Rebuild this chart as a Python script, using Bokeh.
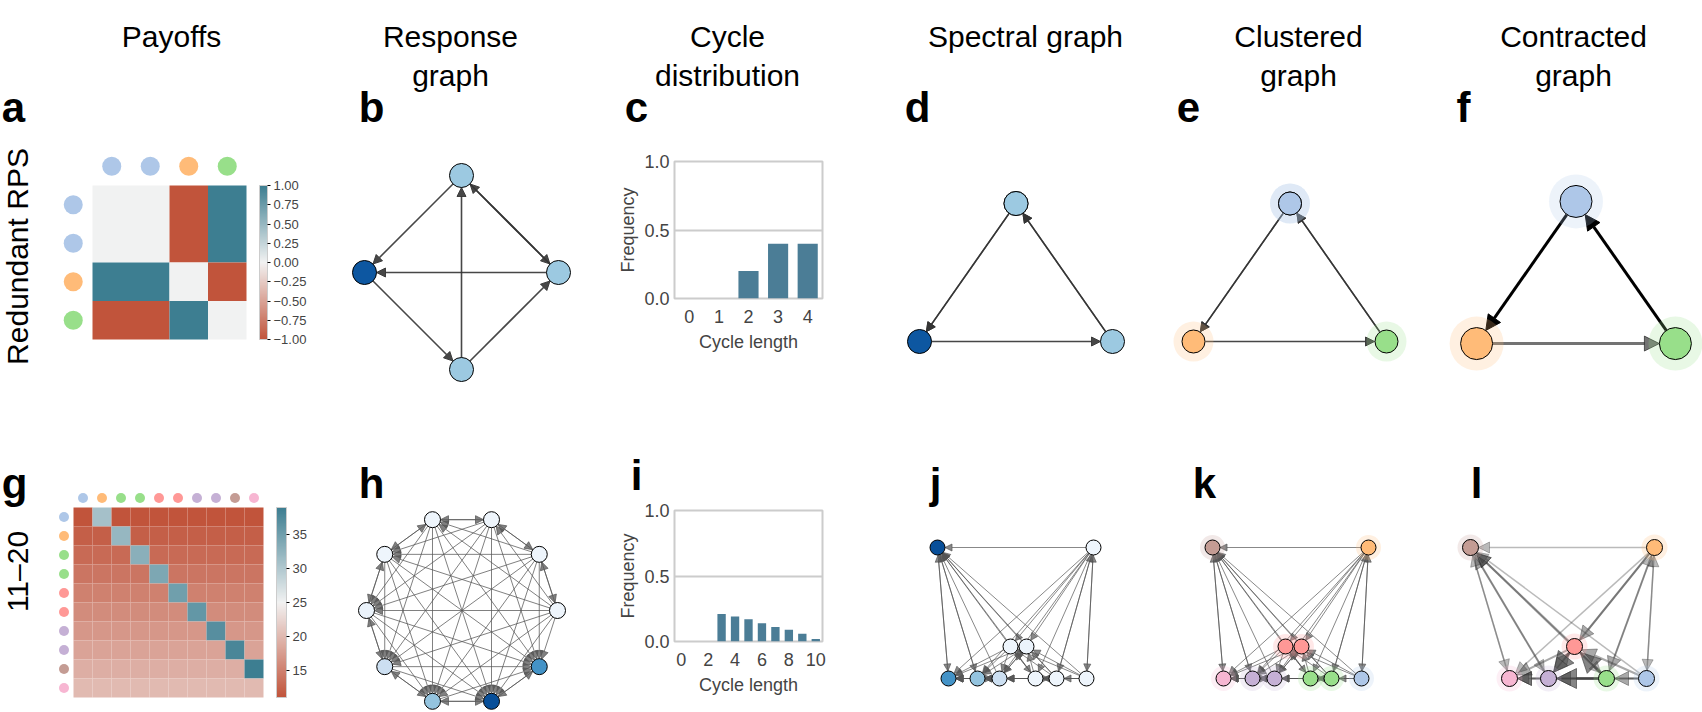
import math
from bokeh.plotting import figure
from bokeh.layouts import row, column
from bokeh.models import (Range1d, Arrow, NormalHead, ColorBar, LinearColorMapper,
                          FixedTicker, CustomJSTickFormatter, ColumnDataSource)
from bokeh.transform import linear_cmap
from bokeh.core.properties import value
from bokeh.embed import file_html
from bokeh.resources import INLINE
from bokeh.palettes import Blues256

FONT = "Liberation Sans"

# ---------------- data ----------------
HEADERS = [["Payoffs"], ["Response", "graph"], ["Cycle", "distribution"],
           ["Spectral graph"], ["Clustered", "graph"], ["Contracted", "graph"]]
LETTERS_TOP = ["a", "b", "c", "d", "e", "f"]
LETTERS_BOT = ["g", "h", "i", "j", "k", "l"]
ROW_LABELS = ["Redundant RPS", "11\u201320"]
CLUSTER_COLORS = ["#aec7e8", "#ffbb78", "#98df8a", "#ff9896", "#c5b0d5", "#c49c94", "#f7b6d2"]

# Redundant RPS (R1, R2, P, S)
rps_payoff = [[0, 0, -1, 1],
              [0, 0, -1, 1],
              [1, 1, 0, -1],
              [-1, -1, 1, 0]]
rps_cluster = [0, 0, 1, 2]
rps_mass = [0.38, 0.38, 0.85, 0.38]
rps_resp_x = [0.0, 1.0, -1.0, 0.0]
rps_resp_y = [1.0, 0.0, 0.0, -1.0]
rps_spec_x = [0.0, 0.0, -0.965, 0.965]
rps_spec_y = [0.69, 0.69, -0.69, -0.69]
rps_contr_x = [0.0, -0.965, 0.965]
rps_contr_y = [0.69, -0.69, -0.69]
rps_cycle_len = [0, 1, 2, 3, 4]
rps_cycle_freq = [0.0, 0.0, 0.2, 0.4, 0.4]

# 11-20 game (actions 11..20)
g_payoff = [[11, 31, 11, 11, 11, 11, 11, 11, 11, 11],
            [12, 12, 32, 12, 12, 12, 12, 12, 12, 12],
            [13, 13, 13, 33, 13, 13, 13, 13, 13, 13],
            [14, 14, 14, 14, 34, 14, 14, 14, 14, 14],
            [15, 15, 15, 15, 15, 35, 15, 15, 15, 15],
            [16, 16, 16, 16, 16, 16, 36, 16, 16, 16],
            [17, 17, 17, 17, 17, 17, 17, 37, 17, 17],
            [18, 18, 18, 18, 18, 18, 18, 18, 38, 18],
            [19, 19, 19, 19, 19, 19, 19, 19, 19, 39],
            [20, 20, 20, 20, 20, 20, 20, 20, 20, 20]]
g_cluster = [0, 1, 2, 2, 3, 3, 4, 4, 5, 6]
g_mass = [0.05, 0.05, 0.05, 0.05, 0.05, 0.06, 0.22, 0.40, 0.88, 0.62]
g_resp_x = [1.0, 0.809, 0.309, -0.309, -0.809, -1.0, -0.809, -0.309, 0.309, 0.809]
g_resp_y = [0.0, 0.588, 0.951, 0.951, 0.588, 0.0, -0.588, -0.951, -0.951, -0.588]
g_spec_x = [1.49, 1.56, 1.19, 0.98, 0.73, 0.89, 0.62, 0.40, 0.0, 0.11]
g_spec_y = [-1.31, 0.0, -1.31, -1.31, -0.99, -0.99, -1.31, -1.31, 0.0, -1.31]
g_contr_x = [1.76, 1.84, 1.36, 1.04, 0.78, 0.0, 0.39]
g_contr_y = [-1.31, 0.0, -1.31, -0.99, -1.31, 0.0, -1.31]
g_cycle_len = list(range(11))
g_cycle_freq = [0.0, 0.0, 0.0, 0.21, 0.19, 0.17, 0.14, 0.11, 0.09, 0.06, 0.02]


# ---------------- helpers ----------------
def hex2rgb(h):
    return tuple(int(h[i:i + 2], 16) for i in (1, 3, 5))


def lerp_palette(stops, n=256):
    out = []
    for k in range(n):
        t = k / (n - 1) * (len(stops) - 1)
        i = min(int(t), len(stops) - 2)
        f = t - i
        a, b = hex2rgb(stops[i]), hex2rgb(stops[i + 1])
        out.append("#%02x%02x%02x" % tuple(round(a[m] + (b[m] - a[m]) * f) for m in range(3)))
    return out


HEAT = lerp_palette(["#c1543b", "#f2f2f2", "#3d7e91"])
BLUES = list(reversed(Blues256))
BAR_COLOR = "#4b7d96"
HEAD_SIZE = 30
LETTER_SIZE = 42

X = [0, 320, 610, 890, 1160, 1445, 1702]
Y = [0, 400, 712]
ROW1_BASE = 107
ROW2_BASE = 483


def make_fig(x0, x1, y0, y1, ox, oy, s):
    p = figure(width=x1 - x0, height=y1 - y0,
               x_range=Range1d((x0 - ox) / s, (x1 - ox) / s),
               y_range=Range1d((oy - y1) / s, (oy - y0) / s),
               x_axis_location=None, y_axis_location=None,
               output_backend="svg", toolbar_location=None, min_border=0)
    p.outline_line_color = None
    p.grid.visible = False
    tx = lambda px: (px - ox) / s
    ty = lambda py: (oy - py) / s
    return p, tx, ty


def txt(p, tx, ty, px, py, s, size, bold=False, baseline="middle", angle=0.0):
    p.text(x=[tx(px)], y=[ty(py)], text=[s], text_font=value(FONT),
           text_font_size=f"{size}px", text_font_style="bold" if bold else "normal",
           text_align="center", text_baseline=baseline, angle=angle, text_color="black")


def letter(p, tx, ty, px, py, s):
    txt(p, tx, ty, px, py, s, LETTER_SIZE, bold=True, baseline="alphabetic")


HEADER_Y = [36, 75]


def header(p, tx, ty, lines, cx):
    ys = HEADER_Y[:1] if len(lines) == 1 else HEADER_Y
    for line, yy in zip(lines, ys):
        txt(p, tx, ty, cx, yy, line, HEAD_SIZE)


def response_edges(P):
    n = len(P)
    return [(i, j) for i in range(n) for j in range(n) if i != j and P[j][i] >= P[i][i]]


def contract(edges, clusters):
    cnt = {}
    for a, b in edges:
        ca, cb = clusters[a], clusters[b]
        if ca != cb:
            cnt[(ca, cb)] = cnt.get((ca, cb), 0) + 1
    return cnt


def arrow(p, s, xa, ya, xb, yb, ra, rb, color, alpha, width, head):
    dx, dy = xb - xa, yb - ya
    d = math.hypot(dx, dy)
    if d < 1e-9:
        return
    ux, uy = dx / d, dy / d
    p.add_layout(Arrow(end=NormalHead(size=head, fill_color=color, line_color=color,
                                      fill_alpha=alpha, line_alpha=alpha, line_width=1),
                       x_start=xa + ux * ra / s, y_start=ya + uy * ra / s,
                       x_end=xb - ux * rb / s, y_end=yb - uy * rb / s,
                       line_color=color, line_alpha=alpha, line_width=width, level="underlay"))


def draw_edges(p, s, xs, ys, edges, r, color, alpha, width, head):
    for a, b in edges:
        arrow(p, s, xs[a], ys[a], xs[b], ys[b], r, r, color, alpha, width, head)


def draw_contracted(p, s, xs, ys, cnt, r, widths, heads, alphas, color="#000000"):
    mx = max(cnt.values())
    for (a, b), c in cnt.items():
        f = c / mx
        arrow(p, s, xs[a], ys[a], xs[b], ys[b], r, r, color, alphas(c, f), widths(c, f), heads(c, f))


def nodes_mass(p, xs, ys, mass, size):
    src = ColumnDataSource(dict(x=xs, y=ys, m=mass))
    p.scatter('x', 'y', source=src, size=size, fill_color=linear_cmap('m', BLUES, 0, 1),
              line_color="black", line_width=1)


def nodes_cluster(p, xs, ys, clusters, size, halo):
    cols = [CLUSTER_COLORS[c] for c in clusters]
    p.scatter(xs, ys, size=halo, fill_color=cols, fill_alpha=0.22, line_color=None)
    p.scatter(xs, ys, size=size, fill_color=cols, line_color="black", line_width=1)


def heatmap_panel(ci, ri, P, clusters, vmin, vmax, ox, oy, cell, dot, cb_x, cb_w, ticks, fmt):
    x0, x1, y0, y1 = X[ci], X[ci + 1], Y[ri], Y[ri + 1]
    p, tx, ty = make_fig(x0, x1, y0, y1, ox, oy, cell)
    n = len(P)
    xs, ys, vs = [], [], []
    for r in range(n):
        for c in range(n):
            xs.append(c + 0.5)
            ys.append(-(r + 0.5))
            vs.append(P[r][c])
    mapper = LinearColorMapper(palette=HEAT, low=vmin, high=vmax)
    src = ColumnDataSource(dict(x=xs, y=ys, v=vs))
    p.rect(x='x', y='y', width=1, height=1, source=src,
           fill_color={'field': 'v', 'transform': mapper}, line_color=None)
    cols = [CLUSTER_COLORS[k] for k in clusters]
    p.scatter([c + 0.5 for c in range(n)], [0.5] * n, size=dot, fill_color=cols, line_color=None)
    p.scatter([-0.5] * n, [-(r + 0.5) for r in range(n)], size=dot, fill_color=cols, line_color=None)
    cb = ColorBar(color_mapper=mapper, location=(cb_x - x0, y1 - (oy + n * cell)),
                  width=cb_w, height=round(n * cell), padding=0, margin=0,
                  ticker=FixedTicker(ticks=ticks),
                  major_label_text_font=FONT, major_label_text_font_size="13px",
                  major_tick_line_color="black", major_tick_in=0, major_tick_out=3,
                  minor_tick_line_color=None, label_standoff=3,
                  bar_line_color="#cccccc", border_line_color=None,
                  background_fill_color=None)
    if fmt is not None:
        cb.formatter = fmt
    p.add_layout(cb)
    return p, tx, ty


FLEFT, FRIGHT = 674, 822


def bar_fig(y0, y1, ftop, fbot, xs, freq, xmax, width, xticks):
    p = figure(width=X[3] - X[2], height=y1 - y0, x_range=Range1d(-0.5, xmax + 0.5), y_range=Range1d(0, 1),
               min_border_left=FLEFT - X[2], min_border_right=X[3] - FRIGHT,
               min_border_top=ftop - y0, min_border_bottom=y1 - fbot,
               output_backend="svg", toolbar_location=None)
    p.vbar(x=xs, top=freq, width=width, fill_color=BAR_COLOR, line_color=None)
    p.outline_line_color = "#cccccc"
    p.outline_line_width = 2
    p.xgrid.visible = False
    p.ygrid.ticker = FixedTicker(ticks=[0, 0.5, 1.0])
    p.ygrid.grid_line_color = "#cccccc"
    p.ygrid.grid_line_width = 2
    p.yaxis.ticker = FixedTicker(ticks=[0, 0.5, 1.0])
    p.yaxis.formatter = CustomJSTickFormatter(code="return tick.toFixed(1);")
    p.xaxis.ticker = FixedTicker(ticks=xticks)
    p.yaxis.axis_label = "Frequency"
    p.xaxis.axis_label = "Cycle length"
    for ax in (p.xaxis[0], p.yaxis[0]):
        ax.axis_line_color = None
        ax.major_tick_line_color = None
        ax.minor_tick_line_color = None
        ax.major_tick_in = 0
        ax.major_tick_out = 0
        ax.major_label_text_font = FONT
        ax.major_label_text_font_size = "18px"
        ax.axis_label_text_font = FONT
        ax.axis_label_text_font_size = "18px"
        ax.axis_label_text_font_style = "normal"
    p.yaxis.major_label_standoff = 5
    p.yaxis.axis_label_standoff = 3
    p.xaxis.major_label_standoff = 11
    p.xaxis.axis_label_standoff = 6
    return p


rps_edges = response_edges(rps_payoff)
g_edges = response_edges(g_payoff)
rps_cnt = contract(rps_edges, rps_cluster)
g_cnt = contract(g_edges, g_cluster)

# ---------------- row 1 ----------------
pa, tx, ty = heatmap_panel(0, 0, rps_payoff, rps_cluster, -1, 1, 92, 185, 38.5, 19, 259, 8,
                           [-1, -0.75, -0.5, -0.25, 0, 0.25, 0.5, 0.75, 1],
                           CustomJSTickFormatter(code="return (tick < 0 ? '\u2212' : '') + Math.abs(tick).toFixed(2);"))
header(pa, tx, ty, HEADERS[0], 171)
letter(pa, tx, ty, 13, ROW1_BASE, LETTERS_TOP[0])
txt(pa, tx, ty, 17, 256, ROW_LABELS[0], 30, angle=math.pi / 2)

pb, tx, ty = make_fig(X[1], X[2], Y[0], Y[1], 461, 272, 97)
draw_edges(pb, 97, rps_resp_x, rps_resp_y, rps_edges, 12, "#333333", 0.9, 1.6, 9)
nodes_mass(pb, rps_resp_x, rps_resp_y, rps_mass, 24)
header(pb, tx, ty, HEADERS[1], 450)
letter(pb, tx, ty, 371, ROW1_BASE, LETTERS_TOP[1])

SPLIT1 = 145
pch, tx, ty = make_fig(X[2], X[3], Y[0], SPLIT1, 0, 0, 1)
header(pch, tx, ty, HEADERS[2], 727)
letter(pch, tx, ty, 636, ROW1_BASE, LETTERS_TOP[2])
pc = bar_fig(SPLIT1, Y[1], 161, 298, rps_cycle_len, rps_cycle_freq, 4, 0.68, [0, 1, 2, 3, 4])

pd, tx, ty = make_fig(X[3], X[4], Y[0], Y[1], 1015.5, 272, 100)
draw_edges(pd, 100, rps_spec_x, rps_spec_y, rps_edges, 12, "#333333", 0.9, 1.5, 9)
nodes_mass(pd, rps_spec_x, rps_spec_y, rps_mass, 24)
header(pd, tx, ty, HEADERS[3], 1025)
letter(pd, tx, ty, 917, ROW1_BASE, LETTERS_TOP[3])

pe, tx, ty = make_fig(X[4], X[5], Y[0], Y[1], 1289.5, 272, 100)
draw_edges(pe, 100, rps_spec_x, rps_spec_y, rps_edges, 12, "#333333", 0.9, 1.5, 9)
nodes_cluster(pe, rps_spec_x, rps_spec_y, rps_cluster, 23, 40)
header(pe, tx, ty, HEADERS[4], 1298)
letter(pe, tx, ty, 1188, ROW1_BASE, LETTERS_TOP[4])

pf, tx, ty = make_fig(X[5], X[6], Y[0], Y[1], 1575.5, 272, 103)
draw_contracted(pf, 103, rps_contr_x, rps_contr_y, rps_cnt, 16,
                lambda c, f: 3, lambda c, f: 15, lambda c, f: 0.1 + 0.9 * f)
nodes_cluster(pf, rps_contr_x, rps_contr_y, [0, 1, 2], 32, 54)
header(pf, tx, ty, HEADERS[5], 1573)
letter(pf, tx, ty, 1463, ROW1_BASE, LETTERS_TOP[5])

# ---------------- row 2 ----------------
pg, tx, ty = heatmap_panel(0, 1, g_payoff, g_cluster, 11, 39, 73, 507, 19, 10, 276, 10,
                           [15, 20, 25, 30, 35], None)
letter(pg, tx, ty, 14, ROW2_BASE, LETTERS_BOT[0])
txt(pg, tx, ty, 17, 571, ROW_LABELS[1], 30, angle=math.pi / 2)

ph, tx, ty = make_fig(X[1], X[2], Y[1], Y[2], 461.5, 610, 95.5)
draw_edges(ph, 95.5, g_resp_x, g_resp_y, g_edges, 8, "#555555", 0.75, 1.0, 8)
nodes_mass(ph, g_resp_x, g_resp_y, g_mass, 16)
letter(ph, tx, ty, 371, ROW2_BASE, LETTERS_BOT[1])

SPLIT2 = 500
pih, tx, ty = make_fig(X[2], X[3], Y[1], SPLIT2, 0, 0, 1)
letter(pih, tx, ty, 636, ROW2_BASE - 8, LETTERS_BOT[2])
pi_ = bar_fig(SPLIT2, Y[2], 510, 641, g_cycle_len, g_cycle_freq, 10, 0.62, [0, 2, 4, 6, 8, 10])

pj, tx, ty = make_fig(X[3], X[4], Y[1], Y[2], 937, 547, 100)
draw_edges(pj, 100, g_spec_x, g_spec_y, g_edges, 7.5, "#555555", 0.7, 1.0, 7)
nodes_mass(pj, g_spec_x, g_spec_y, g_mass, 15)
letter(pj, tx, ty, 935, ROW2_BASE, LETTERS_BOT[3])

pk, tx, ty = make_fig(X[4], X[5], Y[1], Y[2], 1212, 547, 100)
draw_edges(pk, 100, g_spec_x, g_spec_y, g_edges, 7.5, "#555555", 0.7, 1.0, 7)
nodes_cluster(pk, g_spec_x, g_spec_y, g_cluster, 15, 25)
letter(pk, tx, ty, 1204, ROW2_BASE, LETTERS_BOT[4])

pl, tx, ty = make_fig(X[5], X[6], Y[1], Y[2], 1470, 547, 100)
draw_contracted(pl, 100, g_contr_x, g_contr_y, g_cnt, 8,
                lambda c, f: 1 + 0.5 * c, lambda c, f: 8 + 3 * c,
                lambda c, f: 0.25 + 0.35 * f, color="#333333")
nodes_cluster(pl, g_contr_x, g_contr_y, list(range(7)), 16, 26)
letter(pl, tx, ty, 1476, ROW2_BASE, LETTERS_BOT[5])

layout = column(row(pa, pb, column(row(pch), row(pc)), pd, pe, pf),
                row(pg, ph, column(row(pih), row(pi_)), pj, pk, pl))

open("out.html", "w").write(file_html(layout, INLINE))
